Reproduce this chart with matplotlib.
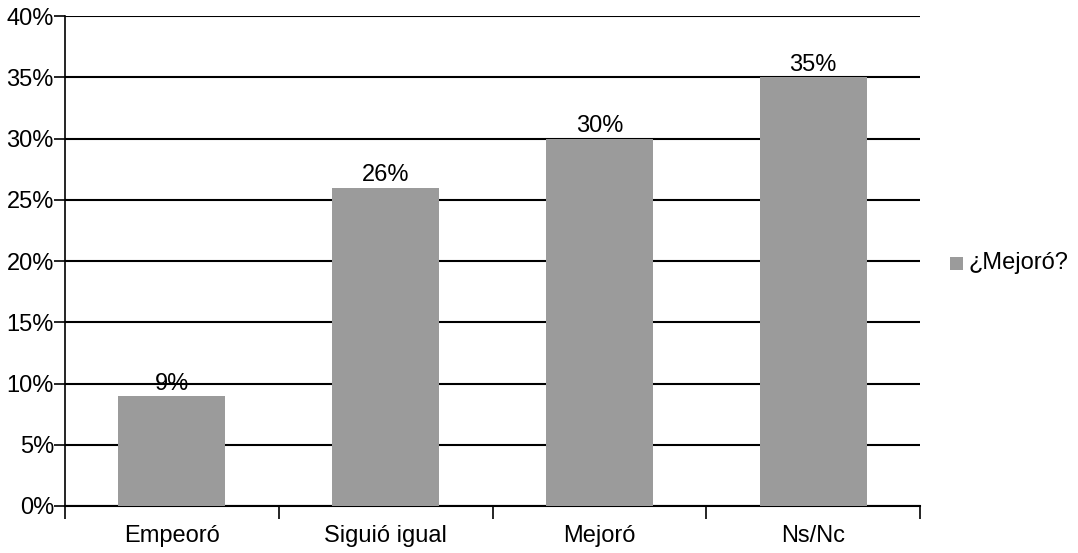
import matplotlib
matplotlib.use("Agg")
import matplotlib.pyplot as plt
import numpy as np

categories = ["Empeoró", "Siguió igual", "Mejoró", "Ns/Nc"]
values = [9, 26, 30, 35]
labels = ["9%", "26%", "30%", "35%"]
yticks = [0, 5, 10, 15, 20, 25, 30, 35, 40]
series_name = "¿Mejoró?"

plt.rcParams['font.family'] = ['Liberation Sans', 'DejaVu Sans']
FS = 17

fig = plt.figure(figsize=(10.78, 5.53), dpi=100)
W, H = 1078, 553
ax = fig.add_axes([65 / W, 1 - 506 / H, (920 - 65) / W, (506 - 16) / H])

x = np.arange(len(categories))
bar_color = '#9b9b9b'
ax.bar(x, values, width=0.5, color=bar_color, edgecolor='none', zorder=3,
       label=series_name)
for xi, v, lab in zip(x, values, labels):
    ax.text(xi, v + 0.1, lab, ha='center', va='bottom', fontsize=FS, zorder=4)

ax.set_xlim(-0.5, len(categories) - 0.5)
ax.set_ylim(0, 40)
ax.set_yticks(yticks)
ax.set_yticklabels([f"{t}%" for t in yticks], fontsize=FS)
ax.yaxis.grid(True, color='black', linewidth=1.5, zorder=1)
ax.tick_params(axis='y', length=8, width=1.2, pad=0, color='black')

ax.set_xticks(x)
ax.set_xticklabels(categories, fontsize=FS)
ax.tick_params(axis='x', length=0, pad=14)
ax.set_xticks(np.arange(-0.5, len(categories)), minor=True)
ax.tick_params(axis='x', which='minor', length=9, width=1.2, color='black')

for s in ['top', 'right']:
    ax.spines[s].set_visible(False)
ax.spines['left'].set_linewidth(1.2)
ax.spines['bottom'].set_linewidth(1.5)

# legend
fig.patches.append(plt.Rectangle((950 / W, 1 - 270 / H), 13 / W, 13 / H,
                                 transform=fig.transFigure, facecolor=bar_color,
                                 edgecolor='none'))
fig.text(968 / W, 1 - 263 / H, series_name, fontsize=FS, va='center', ha='left')

fig.savefig("out.png", dpi=100)
